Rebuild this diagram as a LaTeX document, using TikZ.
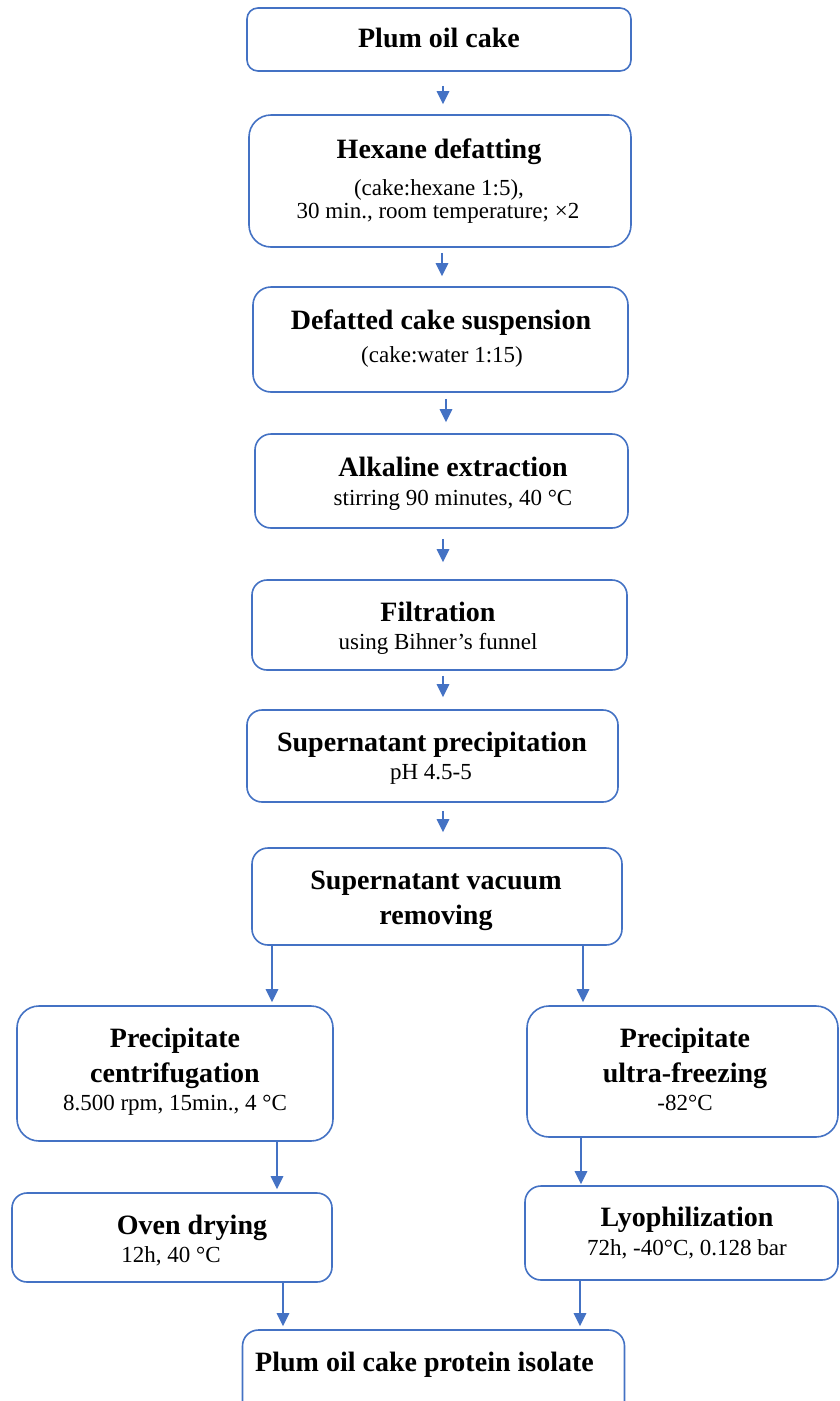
\documentclass[tikz,border=0pt]{standalone}
\usepackage{fontspec}
\setmainfont{Liberation Serif}
\usetikzlibrary{arrows.meta}
\definecolor{lineblue}{HTML}{4472C4}
\begin{document}
\begin{tikzpicture}[x=1pt,y=-1pt,
  box/.style={draw=lineblue, line width=1.6pt, fill=white, inner sep=0pt},
  ttl/.style={font=\fontsize{28}{34}\selectfont\bfseries, anchor=base, inner sep=0pt},
  sub/.style={font=\fontsize{23}{28}\selectfont, anchor=base, inner sep=0pt},
  arr/.style={draw=lineblue, line width=1.5pt, -{Triangle[width=12.5pt,length=13pt]}}]
\useasboundingbox (0,0) rectangle (840,1401);
\clip (0,0) rectangle (840,1401);
\fill[white] (0,0) rectangle (840,1401);
% boxes
\node[box, minimum width=384pt, minimum height=63pt, rounded corners=11pt] (b1) at (439,39.5) {};
\node[box, minimum width=382pt, minimum height=132pt, rounded corners=22pt] (b2) at (440,181) {};
\node[box, minimum width=375pt, minimum height=105pt, rounded corners=18pt] (b3) at (440.5,339.5) {};
\node[box, minimum width=373pt, minimum height=94pt, rounded corners=16pt] (b4) at (441.5,481) {};
\node[box, minimum width=375pt, minimum height=90pt, rounded corners=15pt] (b5) at (439.5,625) {};
\node[box, minimum width=371pt, minimum height=92pt, rounded corners=15pt] (b6) at (432.5,756) {};
\node[box, minimum width=370pt, minimum height=97pt, rounded corners=16pt] (b7) at (437,896.5) {};
\node[box, minimum width=316pt, minimum height=135pt, rounded corners=22pt] (b8) at (175,1073.5) {};
\node[box, minimum width=320pt, minimum height=89pt, rounded corners=15pt] (b9) at (172,1237.5) {};
\node[box, minimum width=311pt, minimum height=131pt, rounded corners=22pt] (b10) at (682.5,1071.5) {};
\node[box, minimum width=313pt, minimum height=94pt, rounded corners=16pt] (b11) at (681.5,1233) {};
\node[box, minimum width=382pt, minimum height=100pt, rounded corners=16pt] (b12) at (433.5,1380) {};
% texts
\node[ttl] (t1) at (439,47) {Plum oil cake};
\node[ttl] (t2) at (439,158) {Hexane defatting};
\node[sub] (s2a) at (439,195) {(cake:hexane 1:5),};
\node[sub] (s2b) at (438,218) {30 min., room temperature; ×2};
\node[ttl] (t3) at (441,329) {Defatted cake suspension};
\node[sub] (s3) at (442,362) {(cake:water 1:15)};
\node[ttl] (t4) at (453,476) {Alkaline extraction};
\node[sub] (s4) at (453,505) {stirring 90 minutes, 40 °C};
\node[ttl] (t5) at (438,621) {Filtration};
\node[sub] (s5) at (438,649) {using Bihner's funnel};
\node[ttl] (t6) at (432,751) {Supernatant precipitation};
\node[sub] (s6) at (431,779) {pH 4.5-5};
\node[ttl] (t7a) at (436,889) {Supernatant vacuum};
\node[ttl] (t7b) at (436,924) {removing};
\node[ttl] (t8a) at (175,1047) {Precipitate};
\node[ttl] (t8b) at (175,1082) {centrifugation};
\node[sub] (s8) at (175,1110) {8.500 rpm, 15min., 4 °C};
\node[ttl] (t9) at (192,1234) {Oven drying};
\node[sub] (s9) at (171,1262) {12h, 40 °C};
\node[ttl] (t10a) at (685,1047) {Precipitate};
\node[ttl] (t10b) at (685,1082) {ultra-freezing};
\node[sub] (s10) at (685,1110) {-82°C};
\node[ttl] (t11) at (687,1226) {Lyophilization};
\node[sub] (s11) at (687,1255) {72h, -40°C, 0.128 bar};
\node[ttl] (t12) at (424.5,1371) {Plum oil cake protein isolate};
% arrows
\draw[arr, shorten <=14pt, shorten >=10pt] ([xshift=4pt]b1.south) -- ([xshift=4pt]b1.south |- b2.north);
\draw[arr, shorten <=5pt, shorten >=10pt] ([xshift=2pt]b2.south) -- ([xshift=2pt]b2.south |- b3.north);
\draw[arr, shorten <=6pt, shorten >=11pt] ([xshift=5.5pt]b3.south) -- ([xshift=5.5pt]b3.south |- b4.north);
\draw[arr, shorten <=10pt, shorten >=17pt] ([xshift=1.5pt]b4.south) -- ([xshift=1.5pt]b4.south |- b5.north);
\draw[arr, shorten <=5pt, shorten >=12pt] ([xshift=3.5pt]b5.south) -- ([xshift=3.5pt]b5.south |- b6.north);
\draw[arr, shorten <=8pt, shorten >=15pt] ([xshift=10.5pt]b6.south) -- ([xshift=10.5pt]b6.south |- b7.north);
\draw[arr, shorten >=3pt] ([xshift=-165pt]b7.south) -- ([xshift=-165pt]b7.south |- b8.north);
\draw[arr, shorten >=3pt] ([xshift=146pt]b7.south) -- ([xshift=146pt]b7.south |- b10.north);
\draw[arr, shorten >=3pt] ([xshift=102pt]b8.south) -- ([xshift=102pt]b8.south |- b9.north);
\draw[arr, shorten >=1pt] ([xshift=-101.5pt]b10.south) -- ([xshift=-101.5pt]b10.south |- b11.north);
\draw[arr, shorten >=3pt] ([xshift=111pt]b9.south) -- ([xshift=111pt]b9.south |- b12.north);
\draw[arr, shorten >=3pt] ([xshift=-101.5pt]b11.south) -- ([xshift=-101.5pt]b11.south |- b12.north);
\end{tikzpicture}
\end{document}
